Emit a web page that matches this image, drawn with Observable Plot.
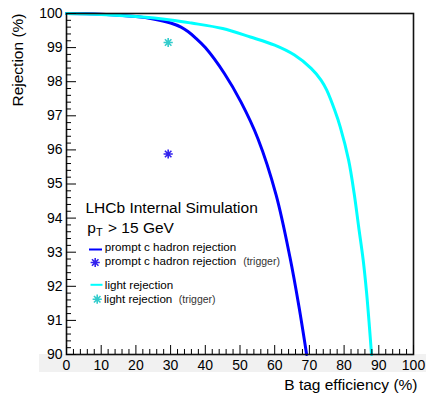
<!DOCTYPE html>
<html>
<head>
<meta charset="utf-8">
<script src="https://cdn.jsdelivr.net/npm/d3@7"></script>
<script src="https://cdn.jsdelivr.net/npm/@observablehq/plot@0.6"></script>
<style>
  html, body { margin: 0; padding: 0; background: #fff; }
</style>
</head>
<body>
<div id="chart"></div>
<script>
// ---- data ----
const effPrompt = [0, 10, 20, 25, 30, 33, 35, 37, 40, 45.5, 50.3, 55.2, 60.4, 64.4, 67, 69.2];
const rejPrompt = [100, 99.98, 99.91, 99.84, 99.72, 99.6, 99.47, 99.3, 99.0, 98.24, 97.4, 96.32, 94.68, 92.85, 91.4, 90.0];

const effLight = [0, 10, 20, 30, 36, 45, 53, 60, 65.7, 70.5, 73.4, 75, 77.3, 78.9, 81.3, 82.9, 84.2, 85.5, 86.5, 87.3, 87.9];
const rejLight = [100, 99.97, 99.91, 99.81, 99.72, 99.56, 99.31, 99.07, 98.78, 98.39, 98.04, 97.75, 97.16, 96.67, 95.7, 94.72, 93.74, 92.77, 91.79, 90.81, 90.0];

const trigSeries = ["prompt", "light"];
const trigEff = [29.3, 29.3];
const trigRej = [95.88, 99.15];

const xMajor = [0, 10, 20, 30, 40, 50, 60, 70, 80, 90, 100];
const yMajor = [90, 91, 92, 93, 94, 95, 96, 97, 98, 99, 100];
const xMinor = d3.range(0, 101, 2).filter(v => v % 10 !== 0);
const yMinor = d3.range(900, 1001, 2).map(v => v / 10).filter(v => Math.abs(v - Math.round(v)) > 1e-6);

const titleX = "B tag efficiency (%)";
const titleY = "Rejection (%)";
const legendTitle = "LHCb Internal Simulation";
const legendLabels = ["prompt c hadron rejection", "prompt c hadron rejection", "light rejection", "light rejection"];
const trigTag = "(trigger)";

// ---- build tables ----
const prompt = effPrompt.map((e, i) => ({eff: e, rej: rejPrompt[i]}));
const light = effLight.map((e, i) => ({eff: e, rej: rejLight[i]}));
const trig = trigSeries.map((s, i) => ({series: s, eff: trigEff[i], rej: trigRej[i]}));

const BLUE = "#0000ff";
const CYAN = "#00ffff";
const MBLUE = "#3322ee";
const MCYAN = "#33cccc";
const FONT = "Liberation Sans, Arial, Helvetica, sans-serif";

const asterisk = {
  draw(ctx, size) {
    const r = Math.sqrt(size / Math.PI);
    const d = r * Math.SQRT1_2;
    ctx.moveTo(-r, 0); ctx.lineTo(r, 0);
    ctx.moveTo(0, -r); ctx.lineTo(0, r);
    ctx.moveTo(-d, -d); ctx.lineTo(d, d);
    ctx.moveTo(-d, d); ctx.lineTo(d, -d);
  }
};
const hline = {
  draw(ctx, size) {
    const r = Math.sqrt(size / Math.PI);
    ctx.moveTo(-r, 0); ctx.lineTo(r, 0);
  }
};

const band = (index, scales, values, dims) =>
  d3.create("svg:rect")
    .attr("x", dims.marginLeft - 27)
    .attr("y", dims.height - dims.marginBottom)
    .attr("width", dims.width - dims.marginLeft + 27)
    .attr("height", 18)
    .attr("fill", "#f1f1f1")
    .node();

const txt = (s, o) => Plot.text([s], {text: d => d, frameAnchor: "top-left", textAnchor: "start", lineAnchor: "bottom", fill: "black", fontSize: 11.6, ...o});

const chart = Plot.plot({
  width: 426,
  height: 393,
  marginLeft: 66,
  marginRight: 13,
  marginTop: 13,
  marginBottom: 39,
  style: {fontFamily: FONT, fontSize: "14px", background: "#fff", color: "black"},
  x: {domain: [0, 100], axis: null},
  y: {domain: [90, 100], axis: null},
  marks: [
    band,
    // curves
    Plot.line(prompt, {x: "eff", y: "rej", stroke: BLUE, strokeWidth: 3, curve: "catmull-rom"}),
    Plot.line(light, {x: "eff", y: "rej", stroke: CYAN, strokeWidth: 3, curve: "catmull-rom"}),
    // trigger points
    Plot.dot(trig, {x: "eff", y: "rej", symbol: asterisk, r: 4.6, fill: "none",
      stroke: d => d.series === "prompt" ? MBLUE : MCYAN, strokeWidth: 1.6}),
    // frame
    Plot.frame({stroke: "#111", strokeWidth: 1.6}),
    // axes: inward ticks
    Plot.axisX({ticks: xMajor, tickSize: -9, text: null, label: null, stroke: "black"}),
    Plot.axisX({ticks: xMinor, tickSize: -5, text: null, label: null, stroke: "black"}),
    Plot.axisX({ticks: xMajor, tickSize: 0, tickPadding: 6, fontSize: 14, fill: "black", label: null, tickFormat: d3.format("d")}),
    Plot.axisY({ticks: yMajor, tickSize: -10, text: null, label: null, stroke: "black"}),
    Plot.axisY({ticks: yMinor, tickSize: -5, text: null, label: null, stroke: "black"}),
    Plot.axisY({ticks: yMajor, tickSize: 0, tickPadding: 4, fontSize: 14, fill: "black", label: null, tickFormat: d3.format("d")}),
    // axis titles
    Plot.text([titleX], {text: d => d, frameAnchor: "bottom-right", textAnchor: "end", lineAnchor: "bottom", dx: 4, dy: 35.5, fontSize: 15.5, fill: "black"}),
    Plot.text([titleY], {text: d => d, frameAnchor: "top-left", textAnchor: "end", lineAnchor: "bottom", rotate: -90, dx: -44, dy: 0, fontSize: 15.5, fill: "black"}),
    // legend header
    txt(legendTitle, {dx: 19, dy: 199.5, fontSize: 15.5}),
    txt("p", {dx: 20.7, dy: 219, fontSize: 15.5}),
    txt("T", {dx: 29.5, dy: 222.5, fontSize: 11}),
    txt("> 15 GeV", {dx: 41.5, dy: 219, fontSize: 15.5}),
    // legend entries
    Plot.dot([0], {frameAnchor: "top-left", dx: 29, dy: 236, symbol: hline, r: 6.5, stroke: BLUE, strokeWidth: 2, fill: "none"}),
    txt(legendLabels[0], {dx: 38.3, dy: 237.7}),
    Plot.dot([0], {frameAnchor: "top-left", dx: 28.7, dy: 249, symbol: asterisk, r: 4.6, stroke: MBLUE, strokeWidth: 1.6, fill: "none"}),
    txt(legendLabels[1], {dx: 38.3, dy: 251.7}),
    txt(trigTag, {dx: 176.7, dy: 251.7, fontSize: 10.5, fill: "#333"}),
    Plot.dot([0], {frameAnchor: "top-left", dx: 30, dy: 271.3, symbol: hline, r: 6, stroke: CYAN, strokeWidth: 2, fill: "none"}),
    txt(legendLabels[2], {dx: 38.3, dy: 275}),
    Plot.dot([0], {frameAnchor: "top-left", dx: 30.7, dy: 285.7, symbol: asterisk, r: 4.6, stroke: MCYAN, strokeWidth: 1.6, fill: "none"}),
    txt(legendLabels[3], {dx: 37.5, dy: 289}),
    txt(trigTag, {dx: 112.3, dy: 289, fontSize: 10.5, fill: "#333"})
  ]
});
document.getElementById("chart").appendChild(chart);
</script>
</body>
</html>
